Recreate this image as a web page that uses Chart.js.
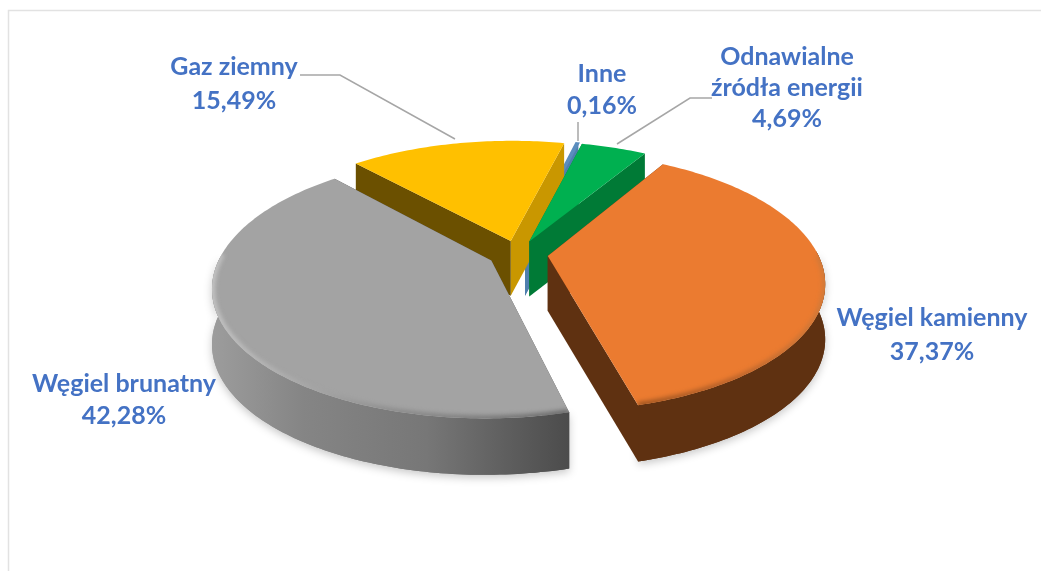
<!DOCTYPE html>
<html lang="pl"><head><meta charset="utf-8">
<style>html,body{margin:0;padding:0;background:#fff}canvas{display:block}</style>
<script src="https://cdn.jsdelivr.net/npm/chart.js@4"></script>
</head><body><canvas id="c" width="1041" height="571"></canvas>
<script>
const categories = ["Węgiel kamienny","Węgiel brunatny","Gaz ziemny","Inne","Odnawialne źródła energii"];
const shares = [37.37,42.28,15.49,0.16,4.69];
const topColors = ["#EB7B30","#A3A3A3","#FFC000","#5B8DBE","#00B050"];
const labelLines = [["Węgiel kamienny"],["Węgiel brunatny"],["Gaz ziemny"],["Inne"],["Odnawialne","źródła energii"]];
const labelAnchors = [[932,318,34],[124,384,32],[234,67,34],[602,74,32],[787,57,31]];
const leaders = [[[300,75],[340,75],[455,139]],[[578,122],[578,141]],[[617,144],[690,98],[712,98]]];

const CX=518, CY=254, K=0.46, P=0.00072, D=55;
const looks = {
  0:{wallA:"#5f3111",wallB:"#5f3111",outer:()=>"#5f3111",rim:["#d07a3a","#b8622a","#9c5420"]},
  1:{wallA:"#4e4e4e",wallB:"#4e4e4e",outer:(c)=>{const g=c.createLinearGradient(214,0,568,0);
      g.addColorStop(0,"#9c9c9c");g.addColorStop(.25,"#858585");g.addColorStop(.6,"#777");g.addColorStop(1,"#4c4c4c");return g;},rim:["#c4c4c4","#8d8d8d","#6a6a6a"]},
  2:{wallA:"#6b5000",wallB:"#c99700",outer:()=>"#7f6000",rim:null},
  3:{wallA:"#3f6f9e",wallB:"#4f7fae",outer:()=>"#3f6f9e",rim:null},
  4:{wallA:"#007a36",wallB:"#007a36",outer:()=>"#007a36",rim:null}
};
function proj(u,v,down){const s=1/(1-v*P);return [CX+u*s, CY+K*v*s+(down?D*(1+0.1*(s-1)):0)];}
function trace(c,pts){c.beginPath();pts.forEach((p,i)=>i?c.lineTo(p[0],p[1]):c.moveTo(p[0],p[1]));}

const pie3d={id:'pie3d',
 beforeDraw(chart){const c=chart.ctx;c.save();c.fillStyle="#fff";c.fillRect(0,0,1041,571);
   c.strokeStyle="#e2e2e2";c.lineWidth=1.5;c.beginPath();c.moveTo(8.5,571);c.lineTo(8.5,10.5);c.lineTo(1041,10.5);c.stroke();c.restore();},
 beforeDatasetsDraw(chart){
   const c=chart.ctx, meta=chart.getDatasetMeta(0);
   const ax=chart.chartArea, ox=(ax.left+ax.right)/2, oy=(ax.top+ax.bottom)/2;
   const slices=meta.data.map((el,i)=>{
     const p=el.getProps(['x','y','startAngle','endAngle','outerRadius'],true);
     const mid=(p.startAngle+p.endAngle)/2, off=el.options.offset/4;
     const a=(p.x-ox)+off*Math.cos(mid), b=(p.y-oy)+off*Math.sin(mid);
     const n=Math.max(2,Math.ceil((p.endAngle-p.startAngle)*180/Math.PI));
     const rim=[],front=[];for(let j=0;j<=n;j++){const t=p.startAngle+(p.endAngle-p.startAngle)*j/n;
       const q=[a+p.outerRadius*Math.cos(t),b+p.outerRadius*Math.sin(t)];
       rim.push(q);if(Math.sin(t)>-0.04)front.push(q);}
     return {i,a,b,rim,front,color:el.options.backgroundColor,order:b+p.outerRadius*Math.sin(mid)};
   }).sort((s,t)=>s.order-t.order);
   slices.forEach(s=>{
     const L=looks[s.i];
     const first=s.rim[0], last=s.rim[s.rim.length-1], apex=[s.a,s.b];
     const band=(q1,q2)=>[proj(q1[0],q1[1]),proj(q2[0],q2[1]),proj(q2[0],q2[1],true),proj(q1[0],q1[1],true)];
     const walls=[{q:first,col:L.wallA},{q:last,col:L.wallB}].sort((x,y)=>x.q[1]-y.q[1]);
     c.save();
     const rimUp=s.rim.map(q=>proj(q[0],q[1]));
     const hasFront=s.front.length>1;
     const outerPts=hasFront?s.front.map(q=>proj(q[0],q[1])).concat(s.front.map(q=>proj(q[0],q[1],true)).reverse()):null;
     c.shadowColor="rgba(0,0,0,.22)";c.shadowBlur=9;c.shadowOffsetY=3;
     if(hasFront){trace(c,outerPts);c.closePath();c.fillStyle=L.outer(c);c.fill();}
     c.shadowColor="transparent";
     walls.forEach(w=>{trace(c,band(apex,w.q));c.closePath();c.fillStyle=w.col;c.fill();});
     if(hasFront){trace(c,outerPts);c.closePath();c.fillStyle=L.outer(c);c.fill();}
     // top face
     const top=[proj(s.a,s.b)].concat(rimUp);
     trace(c,top);c.closePath();c.fillStyle=s.color;c.fill();
     if(s.i===3){c.strokeStyle=s.color;c.lineWidth=2;c.stroke();}
     if(L.rim){
       c.save();trace(c,top);c.closePath();c.clip();
       const xs=s.i===1?[214,568]:[823,632];
       const gr=c.createLinearGradient(xs[0],0,xs[1],0);
       gr.addColorStop(0,L.rim[0]);gr.addColorStop(.5,L.rim[1]);gr.addColorStop(1,L.rim[2]);
       c.filter="blur(2px)";c.strokeStyle=gr;c.lineWidth=6;
       const vis=s.rim.filter(q=>q[1]>0).map(q=>proj(q[0],q[1]));
       trace(c,vis);c.stroke();c.restore();
     }
     c.restore();
   });
   return false;
 },
 afterDraw(chart){
   const c=chart.ctx;c.save();
   c.strokeStyle="#a6a6a6";c.lineWidth=1.5;
   leaders.forEach(l=>{trace(c,l);c.stroke();});
   c.fillStyle="#4472C4";c.font="bold 25px Lato, 'Open Sans', sans-serif";c.textAlign="center";c.textBaseline="middle";
   shares.forEach((v,i)=>{
     const [x,y,lh]=labelAnchors[i];
     const lines=labelLines[i].concat([v.toFixed(2).replace('.',',')+"%"]);
     lines.forEach((t,k)=>c.fillText(t,x,y+k*lh));
   });
   c.restore();
 }
};
new Chart(document.getElementById('c'),{
  type:'pie',
  data:{labels:categories,datasets:[{data:shares,backgroundColor:topColors,borderWidth:0,offset:120,hoverOffset:120}]},
  options:{responsive:false,animation:false,rotation:31,radius:270,layout:{padding:0},
    plugins:{legend:{display:false},tooltip:{enabled:false}},events:[]},
  plugins:[pie3d]
});
</script></body></html>
